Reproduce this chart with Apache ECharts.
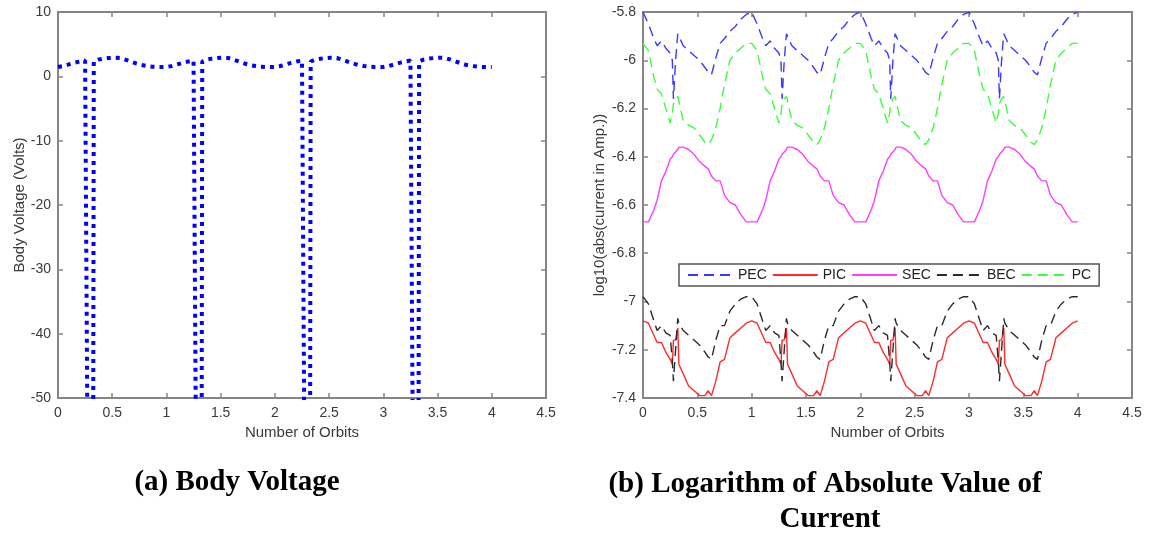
<!DOCTYPE html>
<html>
<head>
<meta charset="utf-8">
<script src="https://cdn.jsdelivr.net/npm/echarts@6/dist/echarts.min.js"></script>
<style>
  html, body { margin: 0; padding: 0; background: #fff; }
  #chart { width: 1150px; height: 533px; }
</style>
</head>
<body>
<div id="chart"></div>
<script>
// Tick values shared by both panels
const orbitTicks = [0, 0.5, 1, 1.5, 2, 2.5, 3, 3.5, 4, 4.5];

// (a) Body voltage over four orbits
const voltOrbits = [
  0.00, 0.05, 0.10, 0.15, 0.20, 0.25, 0.265, 0.27, 0.325, 0.33, 0.37, 0.42, 0.47, 0.52, 0.57, 0.62, 0.67, 0.72, 0.77, 0.82, 0.87, 0.92, 0.97,
  1.00, 1.05, 1.10, 1.15, 1.20, 1.25, 1.265, 1.27, 1.325, 1.33, 1.37, 1.42, 1.47, 1.52, 1.57, 1.62, 1.67, 1.72, 1.77, 1.82, 1.87, 1.92, 1.97,
  2.00, 2.05, 2.10, 2.15, 2.20, 2.25, 2.265, 2.27, 2.325, 2.33, 2.37, 2.42, 2.47, 2.52, 2.57, 2.62, 2.67, 2.72, 2.77, 2.82, 2.87, 2.92, 2.97,
  3.00, 3.05, 3.10, 3.15, 3.20, 3.25, 3.265, 3.27, 3.325, 3.33, 3.37, 3.42, 3.47, 3.52, 3.57, 3.62, 3.67, 3.72, 3.77, 3.82, 3.87, 3.92, 3.97,
  4.00
];
const bodyVoltage = [
  1.45, 1.60, 1.85, 2.10, 2.30, 2.45, 2.50, -52, -52, 2.30, 2.60, 2.75, 2.85, 2.90, 2.85, 2.60, 2.30, 2.00, 1.75, 1.60, 1.50, 1.45, 1.45,
  1.45, 1.60, 1.85, 2.10, 2.30, 2.45, 2.50, -52, -52, 2.30, 2.60, 2.75, 2.85, 2.90, 2.85, 2.60, 2.30, 2.00, 1.75, 1.60, 1.50, 1.45, 1.45,
  1.45, 1.60, 1.85, 2.10, 2.30, 2.45, 2.50, -52, -52, 2.30, 2.60, 2.75, 2.85, 2.90, 2.85, 2.60, 2.30, 2.00, 1.75, 1.60, 1.50, 1.45, 1.45,
  1.45, 1.60, 1.85, 2.10, 2.30, 2.45, 2.50, -52, -52, 2.30, 2.60, 2.75, 2.85, 2.90, 2.85, 2.60, 2.30, 2.00, 1.75, 1.60, 1.50, 1.45, 1.45,
  1.45
];

// (b) log10 of current magnitudes over four orbits
const curOrbits = [
  0.00, 0.05, 0.10, 0.13, 0.17, 0.21, 0.25, 0.27, 0.28, 0.30, 0.32, 0.33, 0.37, 0.42, 0.47, 0.52, 0.57, 0.60, 0.63, 0.67, 0.71, 0.75, 0.80, 0.85, 0.90, 0.95,
  1.00, 1.05, 1.10, 1.13, 1.17, 1.21, 1.25, 1.27, 1.28, 1.30, 1.32, 1.33, 1.37, 1.42, 1.47, 1.52, 1.57, 1.60, 1.63, 1.67, 1.71, 1.75, 1.80, 1.85, 1.90, 1.95,
  2.00, 2.05, 2.10, 2.13, 2.17, 2.21, 2.25, 2.27, 2.28, 2.30, 2.32, 2.33, 2.37, 2.42, 2.47, 2.52, 2.57, 2.60, 2.63, 2.67, 2.71, 2.75, 2.80, 2.85, 2.90, 2.95,
  3.00, 3.05, 3.10, 3.13, 3.17, 3.21, 3.25, 3.27, 3.28, 3.30, 3.32, 3.33, 3.37, 3.42, 3.47, 3.52, 3.57, 3.60, 3.63, 3.67, 3.71, 3.75, 3.80, 3.85, 3.90, 3.95,
  4.00
];
const pec = [
  -5.80, -5.85, -5.91, -5.94, -5.92, -5.95, -5.97, -6.00, -6.16, -6.00, -5.89, -5.90, -5.94, -5.96, -5.98, -6.00, -6.03, -6.05, -6.06, -5.99, -5.93, -5.91, -5.88, -5.86, -5.83, -5.81,
  -5.80, -5.85, -5.91, -5.94, -5.92, -5.95, -5.97, -6.00, -6.16, -6.00, -5.89, -5.90, -5.94, -5.96, -5.98, -6.00, -6.03, -6.05, -6.06, -5.99, -5.93, -5.91, -5.88, -5.86, -5.83, -5.81,
  -5.80, -5.85, -5.91, -5.94, -5.92, -5.95, -5.97, -6.00, -6.16, -6.00, -5.89, -5.90, -5.94, -5.96, -5.98, -6.00, -6.03, -6.05, -6.06, -5.99, -5.93, -5.91, -5.88, -5.86, -5.83, -5.81,
  -5.80, -5.85, -5.91, -5.94, -5.92, -5.95, -5.97, -6.00, -6.16, -6.00, -5.89, -5.90, -5.94, -5.96, -5.98, -6.00, -6.03, -6.05, -6.06, -5.99, -5.93, -5.91, -5.88, -5.86, -5.83, -5.81,
  -5.80
];
const pic = [
  -7.08, -7.09, -7.14, -7.17, -7.17, -7.21, -7.24, -7.26, -7.16, -7.16, -7.11, -7.26, -7.30, -7.35, -7.37, -7.39, -7.39, -7.37, -7.39, -7.33, -7.25, -7.24, -7.15, -7.13, -7.11, -7.09,
  -7.08, -7.09, -7.14, -7.17, -7.17, -7.21, -7.24, -7.26, -7.16, -7.16, -7.11, -7.26, -7.30, -7.35, -7.37, -7.39, -7.39, -7.37, -7.39, -7.33, -7.25, -7.24, -7.15, -7.13, -7.11, -7.09,
  -7.08, -7.09, -7.14, -7.17, -7.17, -7.21, -7.24, -7.26, -7.16, -7.16, -7.11, -7.26, -7.30, -7.35, -7.37, -7.39, -7.39, -7.37, -7.39, -7.33, -7.25, -7.24, -7.15, -7.13, -7.11, -7.09,
  -7.08, -7.09, -7.14, -7.17, -7.17, -7.21, -7.24, -7.26, -7.16, -7.16, -7.11, -7.26, -7.30, -7.35, -7.37, -7.39, -7.39, -7.37, -7.39, -7.33, -7.25, -7.24, -7.15, -7.13, -7.11, -7.09,
  -7.08
];
const sec = [
  -6.67, -6.67, -6.62, -6.58, -6.50, -6.46, -6.41, -6.40, -6.39, -6.38, -6.37, -6.36, -6.36, -6.37, -6.39, -6.42, -6.44, -6.45, -6.48, -6.50, -6.50, -6.56, -6.59, -6.60, -6.64, -6.67,
  -6.67, -6.67, -6.62, -6.58, -6.50, -6.46, -6.41, -6.40, -6.39, -6.38, -6.37, -6.36, -6.36, -6.37, -6.39, -6.42, -6.44, -6.45, -6.48, -6.50, -6.50, -6.56, -6.59, -6.60, -6.64, -6.67,
  -6.67, -6.67, -6.62, -6.58, -6.50, -6.46, -6.41, -6.40, -6.39, -6.38, -6.37, -6.36, -6.36, -6.37, -6.39, -6.42, -6.44, -6.45, -6.48, -6.50, -6.50, -6.56, -6.59, -6.60, -6.64, -6.67,
  -6.67, -6.67, -6.62, -6.58, -6.50, -6.46, -6.41, -6.40, -6.39, -6.38, -6.37, -6.36, -6.36, -6.37, -6.39, -6.42, -6.44, -6.45, -6.48, -6.50, -6.50, -6.56, -6.59, -6.60, -6.64, -6.67,
  -6.67
];
const bec = [
  -6.98, -7.01, -7.08, -7.12, -7.10, -7.13, -7.14, -7.25, -7.33, -7.20, -7.07, -7.09, -7.12, -7.14, -7.16, -7.18, -7.21, -7.23, -7.24, -7.16, -7.10, -7.10, -7.04, -7.01, -6.99, -6.98,
  -6.98, -7.01, -7.08, -7.12, -7.10, -7.13, -7.14, -7.25, -7.33, -7.20, -7.07, -7.09, -7.12, -7.14, -7.16, -7.18, -7.21, -7.23, -7.24, -7.16, -7.10, -7.10, -7.04, -7.01, -6.99, -6.98,
  -6.98, -7.01, -7.08, -7.12, -7.10, -7.13, -7.14, -7.25, -7.33, -7.20, -7.07, -7.09, -7.12, -7.14, -7.16, -7.18, -7.21, -7.23, -7.24, -7.16, -7.10, -7.10, -7.04, -7.01, -6.99, -6.98,
  -6.98, -7.01, -7.08, -7.12, -7.10, -7.13, -7.14, -7.25, -7.33, -7.20, -7.07, -7.09, -7.12, -7.14, -7.16, -7.18, -7.21, -7.23, -7.24, -7.16, -7.10, -7.10, -7.04, -7.01, -6.99, -6.98,
  -6.98
];
const pc = [
  -5.93, -5.96, -6.07, -6.12, -6.14, -6.20, -6.26, -6.22, -6.18, -6.16, -6.15, -6.17, -6.25, -6.27, -6.28, -6.31, -6.34, -6.35, -6.33, -6.28, -6.20, -6.10, -6.00, -5.97, -5.95, -5.93,
  -5.93, -5.96, -6.07, -6.12, -6.14, -6.20, -6.26, -6.22, -6.18, -6.16, -6.15, -6.17, -6.25, -6.27, -6.28, -6.31, -6.34, -6.35, -6.33, -6.28, -6.20, -6.10, -6.00, -5.97, -5.95, -5.93,
  -5.93, -5.96, -6.07, -6.12, -6.14, -6.20, -6.26, -6.22, -6.18, -6.16, -6.15, -6.17, -6.25, -6.27, -6.28, -6.31, -6.34, -6.35, -6.33, -6.28, -6.20, -6.10, -6.00, -5.97, -5.95, -5.93,
  -5.93, -5.96, -6.07, -6.12, -6.14, -6.20, -6.26, -6.22, -6.18, -6.16, -6.15, -6.17, -6.25, -6.27, -6.28, -6.31, -6.34, -6.35, -6.33, -6.28, -6.20, -6.10, -6.00, -5.97, -5.95, -5.93,
  -5.93
];

const seriesNames = ['PEC', 'PIC', 'SEC', 'BEC', 'PC'];
const seriesColors = ['#3a3aff', '#ff2a2a', '#ff3cff', '#2a2a2a', '#3cff3c'];
const seriesDashed = [true, false, false, true, true];
const currentSeries = [pec, pic, sec, bec, pc];

const pairs = (xs, ys) => xs.map((x, i) => [x, ys[i]]);

const AXIS_GRAY = '#858585';
const LABEL_COLOR = '#3a3a3a';
const SANS = '"Liberation Sans", Arial, sans-serif';
const CAPTION_FONT = 'bold 29px "Liberation Serif", "Times New Roman", serif';

function xAxisFor(grid, top) {
  return {
    type: 'value', gridIndex: grid, position: top ? 'top' : 'bottom',
    min: 0, max: 4.5, interval: 0.5,
    axisLine: { show: true, onZero: false, lineStyle: { color: AXIS_GRAY, width: 2 } },
    axisTick: { show: true, inside: true, length: 5, lineStyle: { color: AXIS_GRAY, width: 1.5 } },
    splitLine: { show: false },
    axisLabel: top ? { show: false } : {
      color: LABEL_COLOR, fontSize: 14, fontFamily: SANS, margin: 8,
      formatter: v => String(orbitTicks.find(t => Math.abs(t - v) < 1e-9) ?? v)
    },
    name: top ? '' : 'Number of Orbits',
    nameLocation: 'middle', nameGap: 25,
    nameTextStyle: { color: LABEL_COLOR, fontSize: 15, fontFamily: SANS }
  };
}

function yAxisFor(grid, right, min, max, interval, name, gap) {
  return {
    type: 'value', gridIndex: grid, position: right ? 'right' : 'left',
    min, max, interval,
    axisLine: { show: true, onZero: false, lineStyle: { color: AXIS_GRAY, width: 2 } },
    axisTick: { show: true, inside: true, length: 5, lineStyle: { color: AXIS_GRAY, width: 1.5 } },
    splitLine: { show: false },
    axisLabel: right ? { show: false } : {
      color: LABEL_COLOR, fontSize: 14, fontFamily: SANS, margin: 7,
      formatter: v => String(parseFloat(v.toFixed(1)))
    },
    name: right ? '' : name,
    nameLocation: 'middle', nameGap: gap,
    nameTextStyle: { color: LABEL_COLOR, fontSize: 15, fontFamily: SANS }
  };
}

const chart = echarts.init(document.getElementById('chart'), null, { renderer: 'canvas' });

const option = {
  animation: false,
  backgroundColor: '#fff',
  grid: [
    { left: 58, top: 12, width: 488, height: 386 },
    { left: 643, top: 12, width: 489, height: 386 }
  ],
  xAxis: [xAxisFor(0, false), xAxisFor(0, true), xAxisFor(1, false), xAxisFor(1, true)],
  yAxis: [
    yAxisFor(0, false, -50, 10, 10, 'Body Voltage (Volts)', 30),
    yAxisFor(0, true, -50, 10, 10),
    yAxisFor(1, false, -7.4, -5.8, 0.2, 'log10(abs(current in Amp.))', 36),
    yAxisFor(1, true, -7.4, -5.8, 0.2)
  ],
  legend: {
    data: seriesNames,
    left: 679, top: 264,
    orient: 'horizontal',
    itemWidth: 45, itemHeight: 12, itemGap: 5,
    padding: [4, 8, 4, 8],
    borderColor: '#555', borderWidth: 1.5, backgroundColor: '#fff',
    itemStyle: { opacity: 0 },
    textStyle: { color: '#222', fontSize: 14, fontFamily: SANS }
  },
  series: [
    {
      name: 'Body Voltage', type: 'line', xAxisIndex: 0, yAxisIndex: 0,
      data: pairs(voltOrbits, bodyVoltage),
      symbol: 'none', clip: true,
      lineStyle: { color: '#0000ff', width: 4, type: [4, 5], cap: 'butt' }
    },
    ...seriesNames.map((name, i) => ({
      name, type: 'line', xAxisIndex: 2, yAxisIndex: 2,
      data: pairs(curOrbits, currentSeries[i]),
      symbol: 'none', clip: true,
      itemStyle: { color: seriesColors[i] },
      lineStyle: { color: seriesColors[i], width: 1.4, type: seriesDashed[i] ? [10, 6] : 'solid' }
    }))
  ],
  graphic: [
    { type: 'text', x: 237, y: 483, style: { text: '(a) Body Voltage', textAlign: 'center', textVerticalAlign: 'middle', fill: '#000', font: CAPTION_FONT } },
    { type: 'text', x: 825, y: 485, style: { text: '(b) Logarithm of Absolute Value of', textAlign: 'center', textVerticalAlign: 'middle', fill: '#000', font: CAPTION_FONT } },
    { type: 'text', x: 830, y: 520, style: { text: 'Current', textAlign: 'center', textVerticalAlign: 'middle', fill: '#000', font: CAPTION_FONT } }
  ]
};

chart.setOption(option);
</script>
</body>
</html>
